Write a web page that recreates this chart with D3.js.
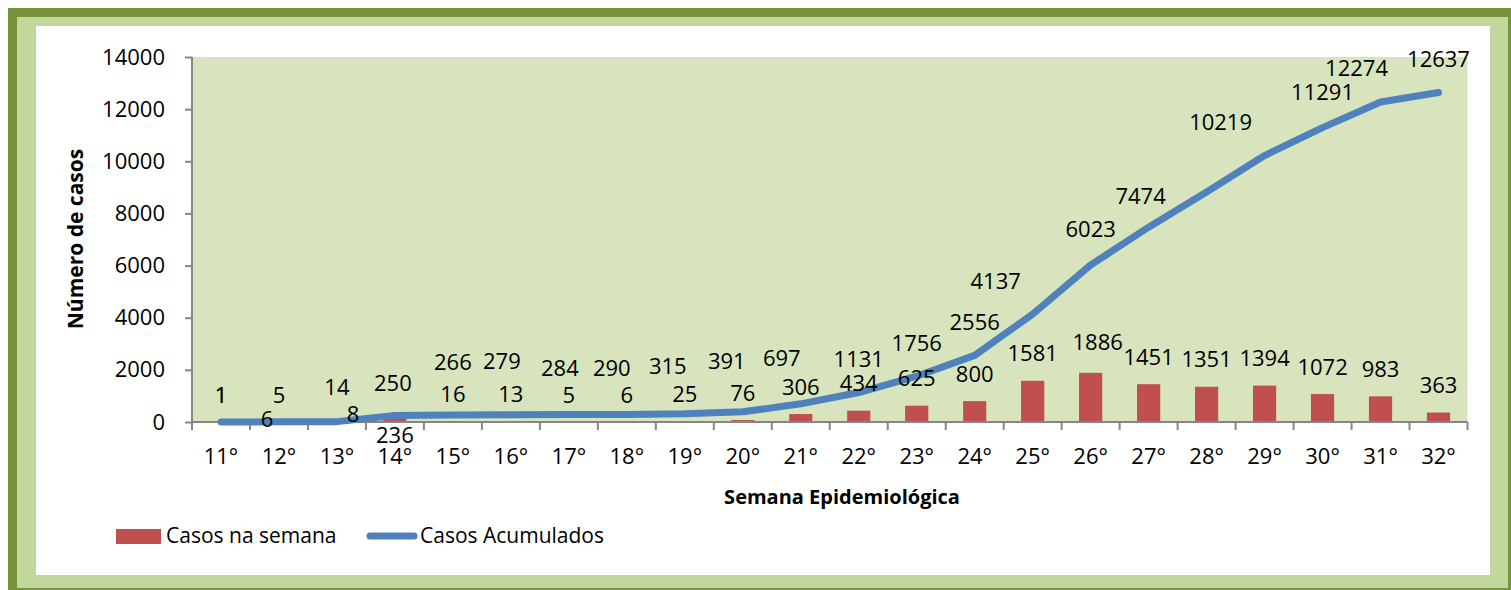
<!DOCTYPE html>
<html>
<head>
<meta charset="utf-8">
<script src="https://cdn.jsdelivr.net/npm/d3@7"></script>
<style>
    body { margin: 0; background: #fff; }
    svg { display: block; font-family: "Open Sans", sans-serif; }
</style>
</head>
<body>
<div id="chart"></div>
<script>
// semanas epidemiológicas
const weeks = ["11°", "12°", "13°", "14°", "15°", "16°", "17°", "18°", "19°", "20°", "21°",
               "22°", "23°", "24°", "25°", "26°", "27°", "28°", "29°", "30°", "31°", "32°"];

// casos na semana
const weeklyCases = [1, 5, 8, 236, 16, 13, 5, 6, 25, 76, 306,
                     434, 625, 800, 1581, 1886, 1451, 1351, 1394, 1072, 983, 363];

// casos acumulados
const cumulativeCases = [1, 6, 14, 250, 266, 279, 284, 290, 315, 391, 697,
                         1131, 1756, 2556, 4137, 6023, 7474, 8825, 10219, 11291, 12274, 12637];

const yTicks = [0, 2000, 4000, 6000, 8000, 10000, 12000, 14000];

// ajustes manuais dos rótulos (como no Excel) -> [dx, dy]
const weeklyLabelNudge = { "13°": [16, 20], "14°": [0, 46], "26°": [7, -4] };
const cumulativeLabelNudge = {
    "11°": [0, 6], "12°": [-12, 30], "13°": [0, -1], "14°": [-2, 1],
    "15°": [0, -20], "16°": [-9, -20], "17°": [-9, -13], "18°": [-15, -13],
    "19°": [-17, -14], "20°": [-16, -18], "21°": [-19, -13], "25°": [-37, 0],
    "26°": [0, -3], "27°": [-8, 2], "29°": [-44, 0], "30°": [0, -2], "31°": [-24, -1]
};
const hiddenCumulativeLabels = ["28°"];

const width = 1511;
const height = 590;
const margin = { left: 192, right: 1467.5, top: 57, bottom: 422 };

const svg = d3.select("#chart").append("svg")
    .attr("width", width)
    .attr("height", height);

// moldura verde
svg.append("rect").attr("x", 8).attr("y", 8).attr("width", 1503).attr("height", 582).attr("fill", "#77933C");
svg.append("rect").attr("x", 17).attr("y", 17).attr("width", 1491).attr("height", 571).attr("fill", "#C3D69B");
svg.append("rect").attr("x", 36).attr("y", 26).attr("width", 1454).attr("height", 549).attr("fill", "#fff");

const x = d3.scaleBand()
    .domain(weeks)
    .range([margin.left, margin.right]);

const y = d3.scaleLinear()
    .domain([0, 14000])
    .range([margin.bottom, margin.top]);

// área do gráfico
svg.append("rect")
    .attr("x", margin.left)
    .attr("y", margin.top)
    .attr("width", margin.right - margin.left)
    .attr("height", margin.bottom - margin.top)
    .attr("fill", "#D7E4BD");

// barras
const barW = x.bandwidth() * 0.4;
svg.selectAll(".bar")
    .data(weeks)
    .enter()
    .append("rect")
    .attr("class", "bar")
    .attr("x", (d) => x(d) + x.bandwidth() / 2 - barW / 2)
    .attr("y", (d, i) => y(weeklyCases[i]))
    .attr("width", barW)
    .attr("height", (d, i) => y(0) - y(weeklyCases[i]))
    .attr("fill", "#C0504D");

// eixo Y
const yAxis = svg.append("g")
    .attr("transform", `translate(${margin.left},0)`)
    .call(d3.axisLeft(y).tickValues(yTicks).tickSize(7).tickPadding(20).tickFormat(d3.format("d")));

// eixo X
const xAxis = svg.append("g")
    .attr("transform", `translate(0,${margin.bottom})`)
    .call(d3.axisBottom(x).tickSize(0).tickPadding(26));

// ticks do eixo X nas bordas das categorias
const xEdges = weeks.map((d) => x(d)).concat([margin.right]);
xAxis.selectAll(".edge-tick")
    .data(xEdges)
    .enter()
    .append("line")
    .attr("class", "edge-tick")
    .attr("x1", (d) => d).attr("x2", (d) => d)
    .attr("y1", 0).attr("y2", 8);

[yAxis, xAxis].forEach((ax) => {
    ax.selectAll("path, line").attr("stroke", "#868686").attr("stroke-width", 2);
    ax.select(".domain").attr("d", ax === yAxis
        ? `M0,${margin.top}V${margin.bottom}`
        : `M${margin.left},0H${margin.right}`);
    ax.selectAll("text")
        .attr("fill", "#000")
        .style("font-size", "22px")
        .style("font-family", "'Open Sans', sans-serif");
});

// linha acumulada
const line = d3.line()
    .x((d, i) => x(weeks[i]) + x.bandwidth() / 2)
    .y((d) => y(d));

svg.append("path")
    .datum(cumulativeCases)
    .attr("d", line)
    .attr("fill", "none")
    .attr("stroke", "#4F81BD")
    .attr("stroke-width", 7)
    .attr("stroke-linejoin", "round")
    .attr("stroke-linecap", "round");

// rótulos dos dados
function nudge(table, w) {
    return table[w] || [0, 0];
}

svg.selectAll(".weekly-label")
    .data(weeks)
    .enter()
    .append("text")
    .attr("class", "weekly-label")
    .attr("x", (d) => x(d) + x.bandwidth() / 2 + nudge(weeklyLabelNudge, d)[0])
    .attr("y", (d, i) => y(weeklyCases[i]) - 27 + nudge(weeklyLabelNudge, d)[1])
    .attr("dy", "0.35em")
    .attr("text-anchor", "middle")
    .style("font-size", "22px")
    .text((d, i) => weeklyCases[i]);

svg.selectAll(".cum-label")
    .data(weeks.filter((d) => !hiddenCumulativeLabels.includes(d)))
    .enter()
    .append("text")
    .attr("class", "cum-label")
    .attr("x", (d) => x(d) + x.bandwidth() / 2 + nudge(cumulativeLabelNudge, d)[0])
    .attr("y", (d) => y(cumulativeCases[weeks.indexOf(d)]) - 33 + nudge(cumulativeLabelNudge, d)[1])
    .attr("dy", "0.35em")
    .attr("text-anchor", "middle")
    .style("font-size", "22px")
    .text((d) => cumulativeCases[weeks.indexOf(d)]);

// títulos dos eixos
svg.append("text")
    .attr("x", 842)
    .attr("y", 497)
    .attr("dy", "0.35em")
    .attr("text-anchor", "middle")
    .style("font-size", "20px")
    .style("font-weight", "bold")
    .text("Semana Epidemiológica");

svg.append("text")
    .attr("transform", "translate(76,239) rotate(-90)")
    .attr("dy", "0.35em")
    .attr("text-anchor", "middle")
    .style("font-size", "21px")
    .style("font-weight", "bold")
    .text("Número de casos");

// legenda
const legend = svg.append("g");
legend.append("rect")
    .attr("x", 116).attr("y", 529)
    .attr("width", 45).attr("height", 15)
    .attr("fill", "#C0504D");
legend.append("text")
    .attr("x", 166).attr("y", 536)
    .attr("dy", "0.35em")
    .style("font-size", "21px")
    .text("Casos na semana");
legend.append("line")
    .attr("x1", 370).attr("x2", 414)
    .attr("y1", 536).attr("y2", 536)
    .attr("stroke", "#4F81BD")
    .attr("stroke-width", 7)
    .attr("stroke-linecap", "round");
legend.append("text")
    .attr("x", 420).attr("y", 536)
    .attr("dy", "0.35em")
    .style("font-size", "21px")
    .text("Casos Acumulados");
</script>
</body>
</html>
